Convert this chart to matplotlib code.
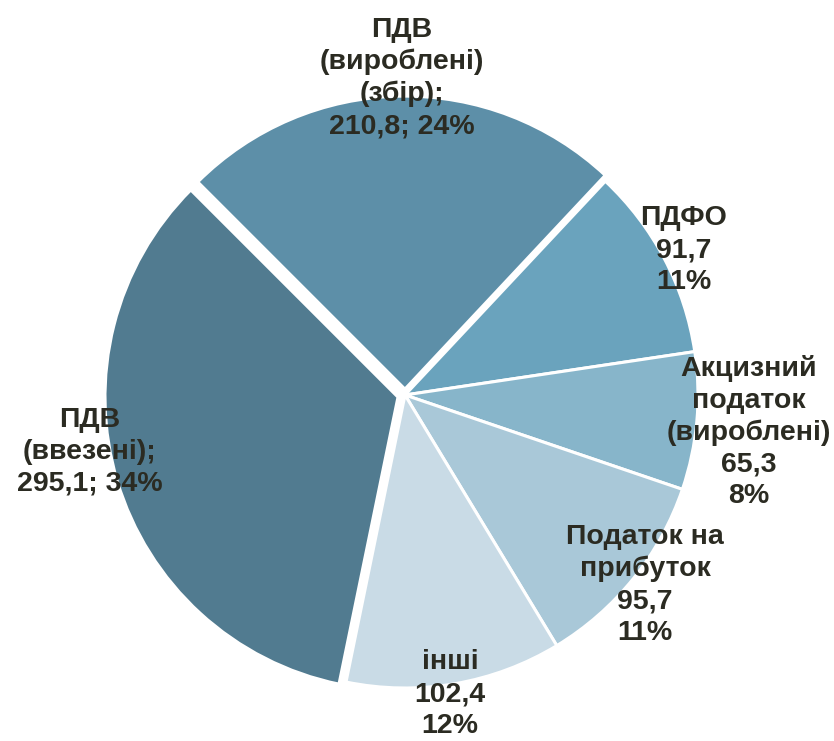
import matplotlib.pyplot as plt

labels = ["ПДВ\n(вироблені)\n(збір);\n210,8; 24%",
          "ПДФО\n91,7\n11%",
          "Акцизний\nподаток\n(вироблені)\n65,3\n8%",
          "Податок на\nприбуток\n95,7\n11%",
          "інші\n102,4\n12%",
          "ПДВ\n(ввезені);\n295,1; 34%"]
values = [210.8, 91.7, 65.3, 95.7, 102.4, 295.1]
colors = ["#5d8fa8", "#6aa3bd", "#87b5ca", "#a9c8d8", "#c9dbe6", "#517b90"]
explode = [0.02, 0, 0, 0, 0, 0.025]

# label centres in pixels of the 834x741 picture
label_px = [(402, 78), (684, 250), (749, 432), (645, 585), (450, 694), (90, 452)]

plt.rcParams['font.family'] = ['Liberation Sans', 'DejaVu Sans']

fig = plt.figure(figsize=(8.34, 7.41), dpi=100)
cx, cy, rad = 405, 395, 293
L = 1.35
w = 2 * L * rad
ax = fig.add_axes([(cx - w / 2) / 834, (741 - cy - w / 2) / 741, w / 834, w / 741])

ax.pie(values, colors=colors, explode=explode, startangle=135, counterclock=False,
       wedgeprops=dict(edgecolor="white", linewidth=2.2))
ax.set_xlim(-L, L)
ax.set_ylim(-L, L)
ax.set_aspect("equal")
ax.axis("off")

for lab, (px, py) in zip(labels, label_px):
    ax.text((px - cx) / rad, (cy - py) / rad, lab, ha="center", va="center",
            fontsize=20.5, fontweight="bold", color="#2b2b22", linespacing=1.28)

fig.savefig("out.png", dpi=100)
